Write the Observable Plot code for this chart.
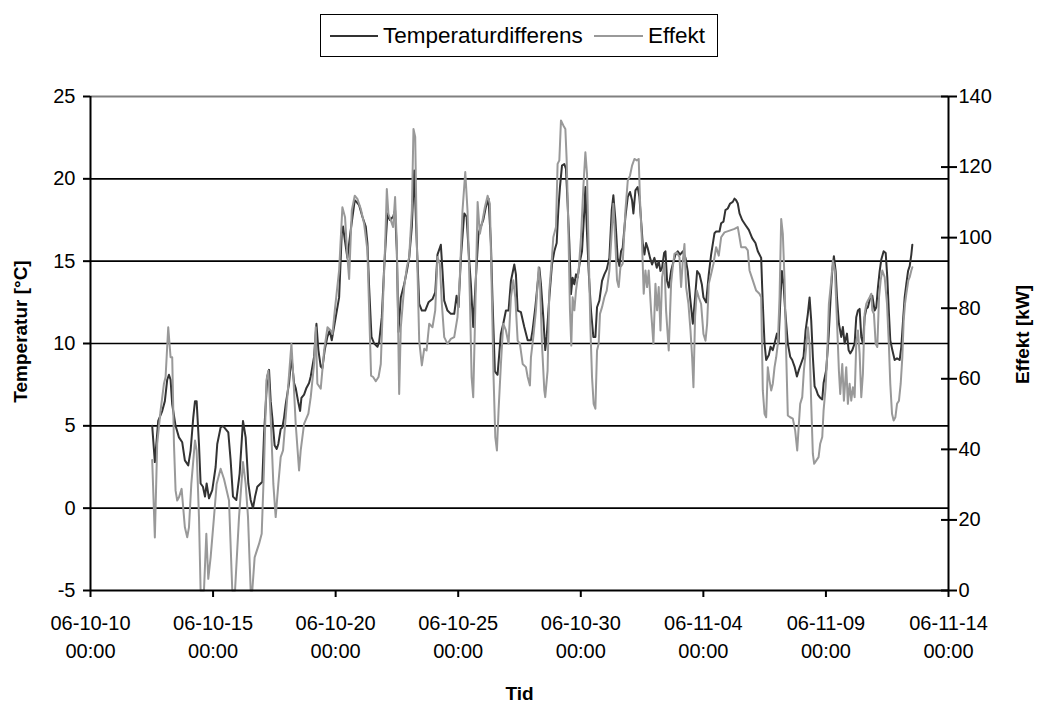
<!DOCTYPE html>
<html>
<head>
<meta charset="utf-8">
<script src="https://cdn.jsdelivr.net/npm/d3@7"></script>
<script src="https://cdn.jsdelivr.net/npm/@observablehq/plot@0.6"></script>
<style>
  html, body { margin: 0; padding: 0; background: #fff; }
  body { font-family: "Liberation Sans", Arial, sans-serif; color: #000; width: 1039px; }
  #legend { position: relative; height: 70px; }
  #legend .box { position: absolute; left: 320px; top: 14px; width: 396px; height: 41px; border: 1px solid #000; }
  #legend .swatch { position: absolute; top: 20px; height: 2px; }
  #legend .label { position: absolute; top: 0; line-height: 41px; font-size: 22.5px; white-space: nowrap; }
</style>
</head>
<body>
<div id="legend"></div>
<div id="chart"></div>
<script>
// Hourly log, 12 Oct – 12 Nov 2006. Each pair: [hours since 2006-10-10 00:00, value]
const temperaturdifferens = [
  [60.4,5.0],[63.0,2.8],[66.3,5.3],[70.2,5.9],[72.8,6.5],[75.1,7.8],[76.8,8.1],[78.4,7.8],[80.0,6.3],[83.3,5.0],
  [86.6,4.3],[89.8,4.0],[92.4,2.9],[95.7,2.6],[98.0,3.5],[100.6,5.5],[102.3,6.5],[103.9,6.5],[106.2,3.9],[107.8,1.5],
  [110.1,1.3],[112.1,0.7],[113.7,1.5],[116.0,0.6],[119.2,1.1],[122.5,2.5],[124.1,3.9],[127.4,4.9],[129.7,5.0],[134.9,4.6],
  [137.2,2.9],[139.5,0.7],[142.8,0.5],[146.0,2.1],[149.3,5.3],[151.9,4.3],[154.5,1.5],[156.8,0.5],[159.1,0.0],[161.1,0.7],
  [163.3,1.3],[166.6,1.5],[168.2,1.6],[169.9,4.5],[173.1,8.0],[174.8,8.4],[176.4,6.5],[178.0,5.5],[180.3,3.8],[182.3,3.6],
  [183.9,3.9],[186.2,4.8],[187.8,4.9],[189.5,5.5],[191.1,6.3],[194.4,7.6],[196.7,9.2],[199.3,7.6],[200.9,7.3],[203.2,6.5],
  [205.2,5.9],[206.5,6.7],[209.1,6.9],[211.4,7.3],[214.0,7.6],[215.6,8.0],[218.9,9.2],[221.2,11.2],[223.1,9.6],[225.4,8.6],
  [227.0,8.5],[229.3,9.6],[231.9,10.4],[234.2,10.8],[236.2,10.2],[243.4,12.8],[246.0,16.7],[247.3,17.1],[248.3,16.6],[251.5,15.2],
  [254.8,16.9],[258.7,18.7],[260.4,18.6],[263.0,18.4],[266.2,17.7],[269.5,17.1],[271.1,16.1],[272.8,13.4],[275.1,10.4],[277.7,10.0],
  [281.0,9.8],[282.6,10.1],[285.2,11.6],[287.5,14.6],[290.7,17.9],[293.0,17.5],[296.3,17.7],[298.2,18.1],[299.9,15.6],[301.5,10.7],
  [303.8,12.8],[307.1,13.6],[309.7,14.4],[312.0,15.2],[314.6,17.1],[316.9,20.5],[319.2,16.5],[321.8,12.4],[324.4,12.0],[327.7,12.0],
  [330.9,12.5],[334.8,12.7],[337.5,13.1],[339.7,15.4],[343.0,16.0],[344.6,14.4],[346.3,12.6],[349.5,12.0],[352.8,11.8],[356.1,11.8],
  [358.4,12.9],[360.3,12.2],[362.6,15.2],[365.9,17.9],[368.2,17.7],[370.8,15.0],[372.4,13.6],[374.7,11.0],[377.3,14.0],[379.9,16.7],
  [382.2,17.1],[384.5,17.5],[387.1,18.3],[389.7,18.8],[392.0,16.1],[393.6,12.6],[395.9,8.3],[398.5,8.1],[401.8,10.6],[404.1,11.2],
  [406.7,12.0],[409.3,12.0],[411.6,13.8],[414.9,14.8],[416.5,14.2],[418.2,12.0],[421.4,11.9],[424.7,11.0],[428.0,10.2],[431.2,10.2],
  [432.8,10.8],[435.5,12.2],[437.7,13.6],[439.4,14.6],[441.0,13.6],[443.3,11.6],[445.2,9.6],[446.6,10.4],[449.2,12.8],[451.8,14.8],
  [454.1,15.6],[456.4,16.1],[458.0,18.1],[459.6,19.5],[461.6,20.8],[463.9,20.9],[465.5,20.6],[467.1,18.5],[468.8,16.1],[470.4,13.0],
  [472.0,14.0],[473.7,13.6],[475.3,14.2],[476.9,14.0],[479.2,15.0],[481.2,15.6],[483.5,18.1],[484.5,19.5],[485.8,17.1],[487.7,14.4],
  [490.0,12.0],[492.3,10.4],[494.3,10.4],[495.9,12.2],[498.2,12.6],[500.8,13.8],[503.1,14.2],[505.4,14.5],[508.0,15.2],[510.3,18.1],
  [511.9,19.0],[513.9,17.5],[516.1,15.2],[517.8,14.7],[519.4,15.6],[521.0,15.8],[523.7,17.7],[526.0,18.9],[528.2,19.2],[530.2,18.7],
  [531.5,17.9],[533.5,19.3],[535.7,19.5],[537.4,18.9],[539.0,17.5],[540.6,16.1],[542.3,15.4],[543.9,16.1],[545.5,15.8],[547.8,15.2],
  [549.8,14.8],[552.1,15.2],[554.4,14.6],[556.3,15.0],[558.0,14.4],[559.6,14.6],[561.6,15.5],[562.9,15.6],[564.5,13.8],[566.1,13.4],
  [568.4,14.4],[570.0,14.8],[572.7,15.4],[574.9,15.6],[577.2,15.4],[579.9,15.6],[582.5,15.2],[584.7,14.4],[587.0,12.8],[589.7,11.2],
  [591.9,12.8],[593.9,14.4],[596.2,14.2],[598.5,13.6],[600.1,12.8],[602.7,12.5],[605.3,14.2],[607.6,15.4],[610.9,16.7],[612.5,16.8],
  [615.8,16.8],[617.4,17.3],[619.7,17.4],[621.6,18.1],[623.9,18.2],[626.2,18.5],[628.8,18.6],[630.5,18.8],[632.1,18.7],[633.7,18.5],
  [635.4,17.9],[638.0,17.5],[641.2,17.2],[644.5,16.9],[647.8,16.4],[651.0,16.1],[653.3,15.6],[656.6,15.2],[657.6,13.4],[658.9,11.4],
  [659.9,10.0],[661.5,9.0],[664.1,9.3],[665.8,9.8],[668.0,9.6],[669.7,10.0],[672.0,10.6],[673.6,10.0],[675.2,12.4],[676.9,14.4],
  [678.5,13.6],[680.1,12.0],[682.7,10.0],[685.0,9.2],[687.0,9.0],[689.3,8.6],[691.6,8.0],[693.5,8.4],[695.8,8.8],[698.1,9.2],
  [700.1,10.8],[702.3,11.8],[704.0,12.8],[705.6,11.4],[707.2,9.2],[708.9,7.4],[710.5,7.2],[712.1,6.9],[714.4,6.7],[716.4,6.6],
  [717.7,7.6],[720.3,8.4],[722.6,10.4],[724.6,12.8],[726.2,14.4],[727.8,15.3],[729.5,14.4],[730.8,12.8],[732.7,11.2],[735.0,10.4],
  [736.6,11.0],[738.3,10.0],[740.6,10.6],[742.2,9.6],[743.8,9.4],[745.8,9.6],[748.1,10.0],[749.7,11.6],[751.3,12.0],[753.0,12.1],
  [754.6,10.4],[756.2,10.0],[757.9,11.6],[759.5,12.1],[761.1,12.2],[763.4,12.8],[765.4,12.9],[767.7,12.0],[769.3,12.2],[770.9,13.4],
  [772.6,14.4],[774.2,15.1],[776.5,15.6],[778.5,15.5],[780.1,14.0],[781.7,11.8],[783.0,10.2],[785.0,9.6],[787.3,9.0],[789.6,9.1],
  [792.2,9.0],[793.8,9.8],[795.5,11.4],[797.1,12.8],[798.7,13.6],[800.4,14.4],[802.0,14.7],[803.6,15.4],[804.6,16.0]
];

// Heat output in kW, same time base
const effekt = [
  [60.4,37.0],[63.0,15.0],[65.3,41.6],[68.6,51.0],[71.9,58.6],[73.5,60.5],[76.1,74.6],[78.4,66.1],[80.0,66.1],[81.7,41.6],
  [83.3,28.3],[84.9,25.5],[86.6,26.4],[89.2,28.8],[92.4,17.9],[94.7,15.1],[96.4,17.9],[98.7,30.2],[102.3,42.5],[103.9,39.7],
  [106.2,20.8],[107.8,0],[111.1,0],[113.4,16.1],[115.3,3.3],[117.6,9.4],[120.9,20.8],[123.5,30.2],[127.4,34.5],[130.7,31.6],
  [135.6,25.5],[138.8,0],[141.5,0],[145.4,20.8],[149.3,36.4],[151.9,30.2],[154.2,20.8],[156.8,0],[158.4,0],[160.7,9.4],
  [165.0,13.2],[167.6,16.1],[169.9,35.0],[172.2,59.5],[174.1,62.3],[176.4,49.1],[179.0,30.2],[181.3,20.8],[183.9,30.2],[186.2,37.8],
  [188.5,39.7],[191.1,49.1],[193.7,58.6],[196.7,69.9],[198.6,60.5],[200.9,47.2],[204.2,34.0],[205.8,39.7],[209.1,47.2],[213.3,50.1],
  [215.6,54.8],[218.9,64.2],[220.5,74.6],[222.1,58.6],[225.4,57.2],[228.7,68.0],[232.0,74.6],[235.2,73.7],[236.9,72.7],[239.5,80.3],
  [243.4,90.7],[246.6,108.6],[249.2,105.8],[251.5,94.5],[253.2,88.3],[255.8,107.7],[258.7,111.9],[261.3,111.0],[264.6,108.2],[267.9,103.9],
  [271.1,96.4],[272.8,79.4],[274.7,60.9],[276.7,60.5],[279.3,59.3],[282.0,60.5],[284.2,64.2],[286.5,83.1],[288.5,98.2],[290.1,113.8],
  [291.7,106.7],[294.0,104.9],[296.3,103.0],[298.2,111.5],[299.9,98.2],[302.2,55.7],[303.8,74.6],[307.1,86.0],[309.7,91.6],[312.0,94.5],
  [314.6,107.7],[316.2,130.8],[317.9,128.5],[319.5,98.2],[321.8,70.8],[324.4,63.8],[326.7,68.5],[329.0,68.0],[331.6,75.6],[334.8,74.6],
  [337.5,79.4],[339.7,94.5],[342.0,92.6],[344.0,81.2],[346.3,71.8],[349.5,69.9],[352.8,71.3],[356.1,71.8],[359.3,77.5],[361.6,88.8],
  [364.2,107.7],[366.9,118.6],[369.1,107.7],[371.4,83.1],[373.1,60.5],[374.7,54.8],[376.7,79.4],[379.0,110.1],[381.2,101.1],[383.8,104.9],
  [386.1,108.6],[388.8,111.9],[391.0,109.6],[393.0,83.1],[394.6,60.5],[396.3,43.5],[397.9,39.7],[399.5,51.0],[401.8,64.2],[404.1,75.6],
  [406.7,73.7],[409.3,69.9],[411.6,83.1],[413.9,87.9],[415.9,83.1],[418.2,70.8],[420.4,69.9],[423.1,64.2],[426.3,63.3],[428.0,60.5],
  [430.2,58.1],[431.2,66.1],[433.5,71.8],[436.1,79.4],[438.7,91.6],[440.0,87.9],[442.0,69.9],[444.3,56.7],[445.2,54.8],[447.5,62.3],
  [449.2,85.0],[451.8,94.5],[453.1,100.1],[455.7,103.0],[457.3,120.9],[459.0,121.9],[460.6,133.2],[462.9,131.8],[464.9,130.8],[466.2,121.9],
  [467.8,103.0],[469.4,79.4],[470.7,69.4],[472.0,83.1],[473.7,79.4],[475.3,85.0],[477.9,90.7],[480.2,100.1],[482.5,114.3],[484.5,124.2],
  [486.1,118.1],[487.7,96.4],[489.4,74.6],[491.0,60.5],[492.6,52.9],[494.3,51.5],[495.9,68.0],[497.5,69.9],[498.8,78.4],[500.8,80.3],
  [503.1,83.1],[505.4,85.0],[508.0,90.7],[510.0,100.1],[511.9,109.6],[513.9,98.2],[515.5,87.9],[517.1,86.0],[518.8,91.6],[521.0,92.6],
  [523.7,107.7],[526.0,116.2],[528.2,117.6],[530.2,120.4],[532.5,122.3],[534.8,121.9],[536.7,122.3],[538.0,110.5],[540.0,98.2],[541.6,84.1],
  [543.3,90.7],[544.9,86.0],[546.5,90.7],[548.8,79.4],[551.1,69.9],[553.1,86.9],[554.7,79.4],[556.3,86.0],[558.0,73.7],[559.6,88.8],
  [561.9,92.6],[563.5,79.4],[566.1,68.0],[568.4,86.9],[570.0,91.6],[571.7,95.4],[574.0,95.8],[576.6,94.5],[578.2,86.0],[579.9,93.5],
  [581.5,98.2],[583.1,86.0],[585.4,81.2],[587.4,73.7],[589.0,66.1],[590.3,57.6],[591.9,77.5],[593.6,85.0],[595.5,83.1],[597.8,81.2],
  [600.1,72.7],[602.1,70.8],[603.7,75.6],[605.3,86.9],[607.6,89.7],[609.9,92.6],[612.5,97.3],[615.1,94.9],[617.4,100.1],[620.7,101.5],
  [625.6,102.0],[630.5,102.5],[633.7,103.0],[635.4,100.1],[637.0,97.3],[641.2,97.3],[643.5,96.4],[645.2,90.7],[648.4,87.9],[651.7,85.0],
  [654.9,84.1],[656.6,83.1],[658.2,56.7],[659.9,50.1],[661.5,49.1],[663.1,63.3],[664.8,59.5],[666.4,56.7],[668.0,58.6],[669.7,63.3],
  [671.3,66.1],[672.9,69.9],[674.6,83.1],[676.2,105.3],[677.8,101.1],[679.5,87.9],[681.1,67.1],[682.7,49.6],[685.0,49.1],[687.6,48.7],
  [689.9,45.3],[691.9,39.7],[693.5,47.2],[694.8,52.9],[696.8,54.8],[698.4,62.3],[700.7,69.0],[702.3,74.6],[704.0,69.9],[705.6,52.9],
  [707.2,38.7],[708.5,35.9],[710.5,36.8],[712.8,37.8],[714.4,41.6],[716.4,43.5],[717.7,51.0],[719.7,57.6],[721.3,67.1],[722.9,81.2],
  [725.2,87.9],[726.8,93.5],[728.8,90.7],[730.8,76.5],[732.7,62.3],[734.0,55.7],[736.0,64.2],[737.6,53.8],[739.9,63.3],[741.5,52.9],
  [743.2,58.6],[744.8,53.8],[746.4,57.6],[748.1,54.8],[749.7,69.9],[751.3,73.7],[753.0,67.1],[754.6,54.8],[756.2,61.4],[757.9,78.4],
  [759.5,81.2],[761.1,82.2],[762.8,83.1],[764.4,84.1],[765.4,79.4],[767.0,78.4],[768.7,69.9],[770.3,69.0],[772.0,83.1],[773.6,87.9],
  [775.2,90.7],[777.5,88.8],[779.8,81.2],[781.7,69.0],[783.0,58.6],[784.7,50.1],[786.3,48.2],[788.0,49.1],[789.6,52.9],[791.5,53.8],
  [793.2,58.6],[794.8,66.1],[796.1,76.5],[797.4,81.2],[798.7,84.1],[800.7,87.9],[802.0,88.8],[803.6,90.7],[804.6,91.6]
];

const seriesNames = ["Temperaturdifferens", "Effekt"];
const seriesColors = ["#333333", "#999999"];

const tempTicks = [-5, 0, 5, 10, 15, 20, 25];
const tempGridlines = [0, 5, 10, 15, 20];
const effektTicks = [0, 20, 40, 60, 80, 100, 120, 140];
const xTickDates = ["2006-10-10", "2006-10-15", "2006-10-20", "2006-10-25", "2006-10-30", "2006-11-04", "2006-11-09", "2006-11-14"];
const xTickLabels = ["06-10-10\n00:00", "06-10-15\n00:00", "06-10-20\n00:00", "06-10-25\n00:00", "06-10-30\n00:00", "06-11-04\n00:00", "06-11-09\n00:00", "06-11-14\n00:00"];

const yTitle = "Temperatur [°C]";
const y2Title = "Effekt [kW]";
const xTitle = "Tid";

// Secondary (kW) axis shares the plot height with the °C axis: 0–140 kW ↔ -5–25 °C
const tempMin = -5, tempMax = 25, effektMax = 140;
const effektToTemp = e => tempMin + e * (tempMax - tempMin) / effektMax;
const tempToEffekt = t => String(Math.round((t - tempMin) * effektMax / (tempMax - tempMin)));

const origin = Date.UTC(2006, 9, 10);
const toDate = h => new Date(origin + h * 3600e3);
const tickDates = xTickDates.map(s => new Date(s + "T00:00:00Z"));
const labelByTime = new Map(tickDates.map((d, i) => [+d, xTickLabels[i]]));

const tempRows = temperaturdifferens.map(([h, v]) => ({time: toDate(h), value: v}));
const effektRows = effekt.map(([h, v]) => ({time: toDate(h), value: effektToTemp(v)}));

const font = "'Liberation Sans', Arial, Helvetica, sans-serif";

const chart = Plot.plot({
  width: 1039,
  height: 634,
  marginLeft: 90,
  marginRight: 91,
  marginTop: 26,
  marginBottom: 114,
  style: {fontFamily: font, fontSize: "20px", color: "#000", background: "#fff", overflow: "visible"},
  x: {type: "utc", domain: [tickDates[0], tickDates[tickDates.length - 1]]},
  y: {domain: [tempMin, tempMax]},
  marks: [
    Plot.ruleY(tempGridlines, {stroke: "#000", strokeWidth: 1.6}),
    Plot.ruleY([tempMax], {stroke: "#808080", strokeWidth: 2}),
    Plot.lineY(tempRows, {x: "time", y: "value", stroke: seriesColors[0], strokeWidth: 2}),
    Plot.lineY(effektRows, {x: "time", y: "value", stroke: seriesColors[1], strokeWidth: 2}),
    Plot.ruleY([tempMin], {stroke: "#000", strokeWidth: 2}),
    Plot.ruleX([tickDates[0], tickDates[tickDates.length - 1]], {stroke: "#000", strokeWidth: 2}),
    Plot.axisY(tempTicks, {anchor: "left", tickSize: 7, tickPadding: 8, strokeWidth: 2, fontSize: 20,
      tickFormat: d => String(d), label: null}),
    Plot.axisY(effektTicks.map(effektToTemp), {
      anchor: "right", tickSize: 16, dx: -8, tickPadding: 2, strokeWidth: 2, fontSize: 20,
      tickFormat: tempToEffekt, label: null
    }),
    Plot.axisX(tickDates, {
      anchor: "bottom", tickSize: 7, tickPadding: 12.5, strokeWidth: 2, fontSize: 20, lineHeight: 1.4,
      tickFormat: d => labelByTime.get(+d), label: null
    }),
    Plot.text([yTitle], {text: d => d, frameAnchor: "left", textAnchor: "middle", lineAnchor: "middle",
      dx: -70, dy: -12, rotate: -90, fontSize: 19, fontWeight: "bold"}),
    Plot.text([y2Title], {text: d => d, frameAnchor: "right", textAnchor: "middle", lineAnchor: "middle",
      dx: 74, dy: -9, rotate: -90, fontSize: 19, fontWeight: "bold"}),
    Plot.text([xTitle], {text: d => d, frameAnchor: "bottom", textAnchor: "middle", lineAnchor: "middle",
      dy: 103, fontSize: 19, fontWeight: "bold"})
  ]
});
document.getElementById("chart").append(chart);

// Legend box above the chart
const legend = document.getElementById("legend");
const box = document.createElement("div");
box.className = "box";
const legendLayout = [{swatch: 9, width: 48, text: 62}, {swatch: 273, width: 49, text: 327}];
seriesNames.forEach((name, i) => {
  const sw = document.createElement("div");
  sw.className = "swatch";
  sw.style.left = legendLayout[i].swatch + "px";
  sw.style.width = legendLayout[i].width + "px";
  sw.style.background = seriesColors[i];
  const lb = document.createElement("div");
  lb.className = "label";
  lb.style.left = legendLayout[i].text + "px";
  lb.textContent = name;
  box.append(sw, lb);
});
legend.append(box);
</script>
</body>
</html>
